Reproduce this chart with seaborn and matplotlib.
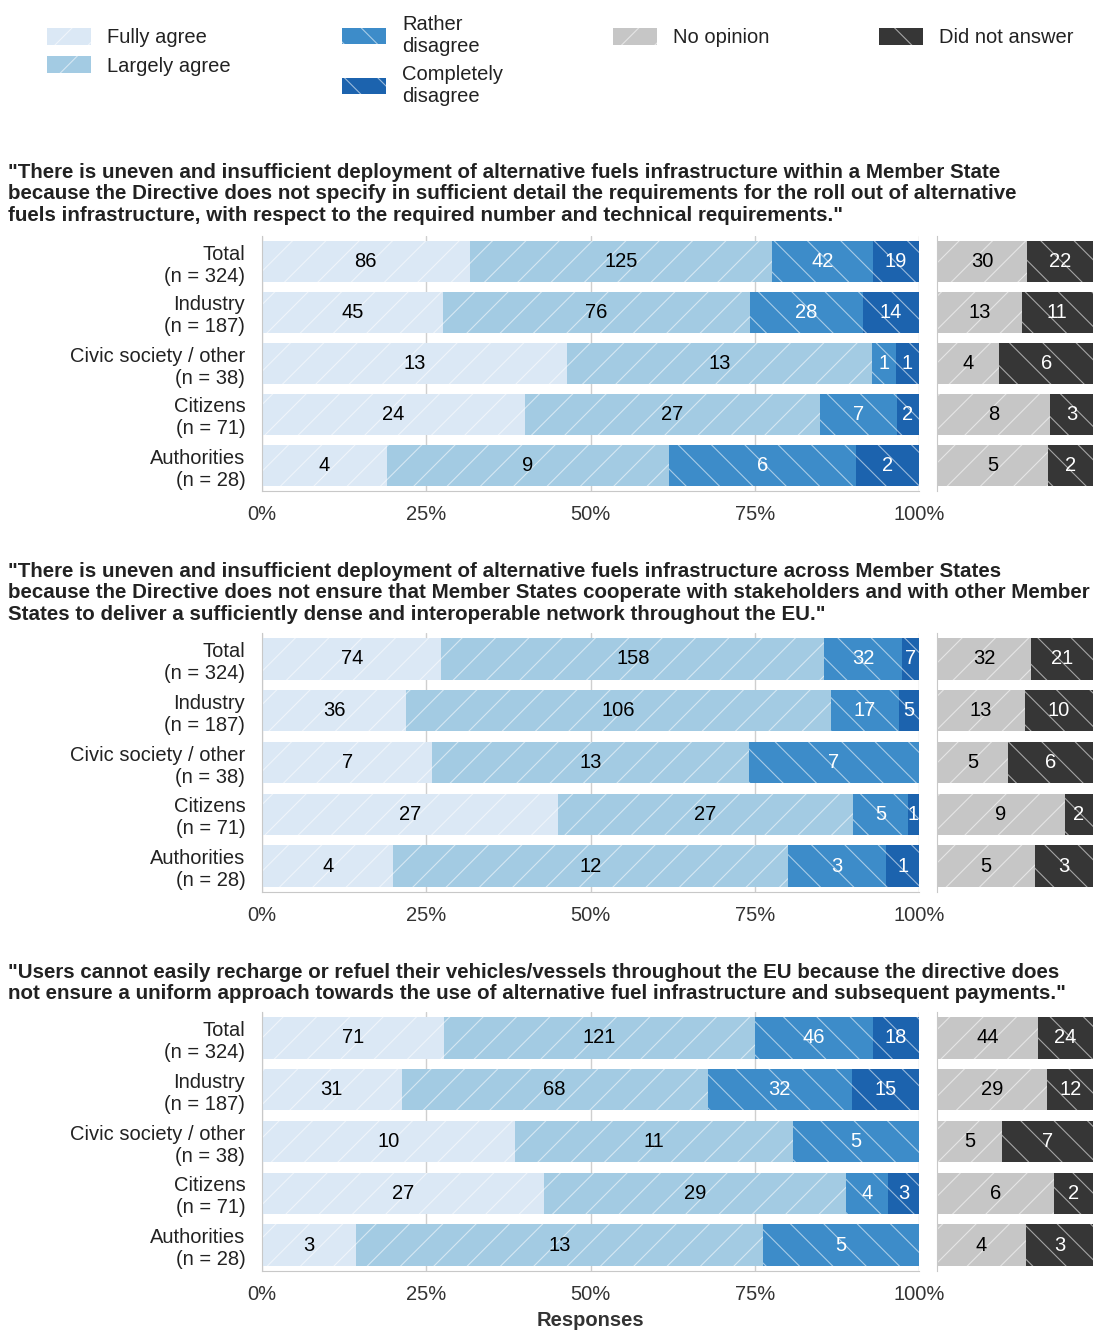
import numpy as np
import pandas as pd
import seaborn as sns
import matplotlib.pyplot as plt
from matplotlib.patches import Patch

# Data
groups = ["Total\n(n = 324)", "Industry\n(n = 187)", "Civic society / other\n(n = 38)",
          "Citizens\n(n = 71)", "Authorities\n(n = 28)"]
answer_cats = ["Fully agree", "Largely agree", "Rather\ndisagree", "Completely\ndisagree"]
other_cats = ["No opinion", "Did not answer"]

titles = [
    '"There is uneven and insufficient deployment of alternative fuels infrastructure within a Member State\n'
    'because the Directive does not specify in sufficient detail the requirements for the roll out of alternative\n'
    'fuels infrastructure, with respect to the required number and technical requirements."',
    '"There is uneven and insufficient deployment of alternative fuels infrastructure across Member States\n'
    'because the Directive does not ensure that Member States cooperate with stakeholders and with other Member\n'
    'States to deliver a sufficiently dense and interoperable network throughout the EU."',
    '"Users cannot easily recharge or refuel their vehicles/vessels throughout the EU because the directive does\n'
    'not ensure a uniform approach towards the use of alternative fuel infrastructure and subsequent payments."',
]

# question 1
q1_fully = [86, 45, 13, 24, 4]
q1_largely = [125, 76, 13, 27, 9]
q1_rather = [42, 28, 1, 7, 6]
q1_completely = [19, 14, 1, 2, 2]
q1_noop = [30, 13, 4, 8, 5]
q1_noans = [22, 11, 6, 3, 2]

# question 2
q2_fully = [74, 36, 7, 27, 4]
q2_largely = [158, 106, 13, 27, 12]
q2_rather = [32, 17, 7, 5, 3]
q2_completely = [7, 5, 0, 1, 1]
q2_noop = [32, 13, 5, 9, 5]
q2_noans = [21, 10, 6, 2, 3]

# question 3
q3_fully = [71, 31, 10, 27, 3]
q3_largely = [121, 68, 11, 29, 13]
q3_rather = [46, 32, 5, 4, 5]
q3_completely = [18, 15, 0, 3, 0]
q3_noop = [44, 29, 5, 6, 4]
q3_noans = [24, 12, 7, 2, 3]

questions = [
    ([q1_fully, q1_largely, q1_rather, q1_completely], [q1_noop, q1_noans]),
    ([q2_fully, q2_largely, q2_rather, q2_completely], [q2_noop, q2_noans]),
    ([q3_fully, q3_largely, q3_rather, q3_completely], [q3_noop, q3_noans]),
]

answer_colors = ["#dbe8f5", "#a3cbe3", "#3d8cc9", "#1c63ae"]
answer_hatch = ["/", "/", "\\", "\\"]
answer_txt = ["black", "black", "white", "white"]
other_colors = ["#c6c6c6", "#363636"]
other_hatch = ["/", "\\"]
other_txt = ["black", "white"]
hatch_edge = (1, 1, 1, 0.55)

sns.set_style("whitegrid")
plt.rcParams["font.family"] = ["Liberation Sans", "DejaVu Sans"]
plt.rcParams["hatch.linewidth"] = 0.8

fig = plt.figure(figsize=(10.93, 13.31), dpi=100)
W, H = 1093, 1331


def draw_stack(ax, counts, colors, hatches, txtcolors, show_labels):
    counts = np.array(counts, dtype=float)
    pct = counts / counts.sum(axis=0) * 100
    cum = pct.cumsum(axis=0)
    # draw cumulative bars from the longest to the shortest
    for i in range(len(counts) - 1, -1, -1):
        df = pd.DataFrame({"group": groups, "value": cum[i]})
        sns.barplot(data=df, x="value", y="group", orient="h", order=groups,
                    color=colors[i], saturation=1, width=0.8, hatch=hatches[i],
                    edgecolor=hatch_edge, linewidth=0, ax=ax, zorder=2)
    for i in range(len(counts)):
        for j in range(len(groups)):
            if counts[i, j] > 0:
                ax.text(cum[i, j] - pct[i, j] / 2, j, f"{int(counts[i, j])}",
                        ha="center", va="center", fontsize=14.5, color=txtcolors[i], zorder=3)
    ax.set_xlim(0, 100)
    ax.set_ylim(4.5, -0.5)
    ax.set_xlabel("")
    ax.set_ylabel("")
    ax.grid(axis="y", visible=False)
    for s in ["top", "right"]:
        ax.spines[s].set_visible(False)
    ax.spines["left"].set_color("#c8c8c8")
    ax.tick_params(axis="y", length=6, color="#c8c8c8", labelsize=14.5, labelcolor="#222222", pad=6)
    if not show_labels:
        ax.set_yticklabels([])


tops = [236, 633, 1012]
bottoms = [491, 892, 1271]
title_tops = [163, 562, 963]

for k, (ans, oth) in enumerate(questions):
    b = 1 - bottoms[k] / H
    h = (bottoms[k] - tops[k]) / H
    ax = fig.add_axes([262 / W, b, 657 / W, h])
    draw_stack(ax, ans, answer_colors, answer_hatch, answer_txt, True)
    ax.spines["bottom"].set_color("#c8c8c8")
    ax.grid(axis="x", color="#cfcfcf", linewidth=1)
    ax.set_xticks([0, 25, 50, 75, 100])
    ax.set_xticklabels(["0%", "25%", "50%", "75%", "100%"])
    ax.tick_params(axis="x", labelsize=14.5, labelcolor="#333333", length=0, pad=10)
    for lab in ax.get_yticklabels():
        lab.set_multialignment("right")

    ax2 = fig.add_axes([937 / W, b, 156 / W, h])
    draw_stack(ax2, oth, other_colors, other_hatch, other_txt, False)
    ax2.spines["bottom"].set_visible(False)
    ax2.grid(False)
    ax2.set_xticks([])

    fig.text(8 / W, 1 - title_tops[k] / H, titles[k], ha="left", va="top",
             fontsize=14.8, fontweight="bold", color="#222222", linespacing=1.16)

fig.text(590 / W, 1 - 1321 / H, "Responses", ha="center", va="center",
         fontsize=14.5, fontweight="bold", color="#333333")


# Legend, four columns placed separately
def handle(color, hatch):
    return Patch(facecolor=color, hatch=hatch, edgecolor=hatch_edge, linewidth=0)


legend_cols = [
    ([handle(answer_colors[0], "/"), handle(answer_colors[1], "/")], answer_cats[:2], 47, 28, 0.45),
    ([handle(answer_colors[2], "\\"), handle(answer_colors[3], "\\")], answer_cats[2:], 342, 15, 0.45),
    ([handle(other_colors[0], "/")], other_cats[:1], 613, 28, 0.4),
    ([handle(other_colors[1], "\\")], other_cats[1:], 879, 28, 0.4),
]
for hs, labs, x0, y0, sp in legend_cols:
    fig.legend(hs, labs, loc="upper left", bbox_to_anchor=(x0 / W, 1 - y0 / H),
               frameon=False, fontsize=14.5, handlelength=2.2, handleheight=0.9,
               handletextpad=0.8, labelspacing=sp, borderpad=0, borderaxespad=0,
               labelcolor="#222222")

fig.savefig("out.png", dpi=100)
